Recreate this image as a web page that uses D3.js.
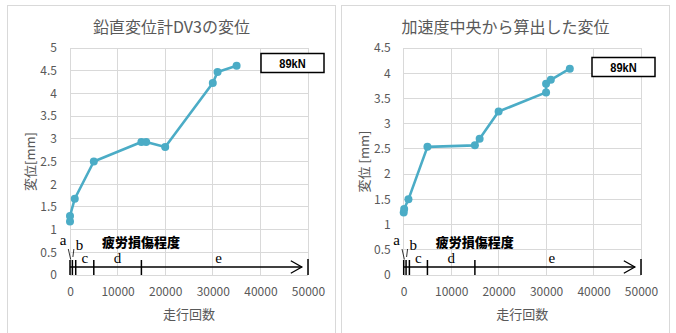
<!DOCTYPE html>
<html>
<head>
<meta charset="utf-8">
<script src="https://cdn.jsdelivr.net/npm/d3@7"></script>
<style>
  html, body { margin: 0; padding: 0; background: #fff; }
  svg { display: block; }
</style>
</head>
<body>
<svg id="chart" width="676" height="333"></svg>
<script>
// Running cycles and measured displacement [mm] for each panel
const dv3Cycles = [0, 0, 1000, 5000, 15000, 16000, 20000, 30000, 31000, 35000];
const dv3Disp   = [1.18, 1.30, 1.68, 2.50, 2.93, 2.93, 2.82, 4.23, 4.47, 4.61];

const accCycles = [0, 100, 1000, 5000, 15000, 16000, 20000, 30000, 30000, 31000, 35000];
const accDisp   = [1.24, 1.31, 1.50, 2.54, 2.57, 2.70, 3.24, 3.62, 3.79, 3.87, 4.09];

// Fatigue damage stages along the cycle axis
const stageBounds = [0, 500, 1200, 5000, 15000, 50000];
const stageNames  = ["a", "b", "c", "d", "e"];
const arrowTipCycles = 48700;

const xTicks = [0, 10000, 20000, 30000, 40000, 50000];
const dv3YTicks = [0, 0.5, 1, 1.5, 2, 2.5, 3, 3.5, 4, 4.5, 5];
const accYTicks = [0, 0.5, 1, 1.5, 2, 2.5, 3, 3.5, 4, 4.5];

const titles = ["鉛直変位計DV3の変位", "加速度中央から算出した変位"];
const yTitles = ["変位[mm]", "変位 [mm]"];
const xTitle = "走行回数";
const loadLabel = "89kN";
const stageTitle = "疲労損傷程度";

const svg = d3.select("#chart");
svg.append("rect").attr("width", 676).attr("height", 333).attr("fill", "#fff");

const LINE = "#4bacc6";
const GRID = "#d9d9d9";
const TXT = "#595959";
const SANS = "'Noto Sans CJK JP', 'Noto Sans', sans-serif";

function drawPanel(cfg) {
  const g = svg.append("g");

  // chart frame
  g.append("rect")
    .attr("x", cfg.frame[0] + 0.5).attr("y", 5.5)
    .attr("width", cfg.frame[1] - cfg.frame[0]).attr("height", 340)
    .attr("fill", "#fff").attr("stroke", GRID).attr("stroke-width", 1);

  g.append("text")
    .attr("x", (cfg.frame[0] + cfg.frame[1]) / 2 + 0.5).attr("y", 26)
    .attr("text-anchor", "middle").attr("dominant-baseline", "central")
    .attr("font-family", SANS).attr("font-size", 16).attr("fill", TXT)
    .text(cfg.title);

  const x = d3.scaleLinear().domain([0, 50000]).range([cfg.plot[0], cfg.plot[1]]);
  const y = d3.scaleLinear().domain([0, cfg.yMax]).range([275, 48]);

  // gridlines
  const grid = g.append("g").attr("stroke", GRID).attr("stroke-width", 1).attr("shape-rendering", "crispEdges");
  grid.selectAll("line.h").data(cfg.yTicks).join("line")
    .attr("x1", x(0)).attr("x2", x(50000))
    .attr("y1", d => y(d)).attr("y2", d => y(d));
  grid.selectAll("line.v").data(xTicks).join("line")
    .attr("x1", d => x(d)).attr("x2", d => x(d))
    .attr("y1", y(0)).attr("y2", y(cfg.yMax));

  // axes (labels only)
  const yAxis = g.append("g").attr("transform", `translate(${x(0)},0)`)
    .call(d3.axisLeft(y).tickValues(cfg.yTicks).tickSize(0).tickPadding(13)
      .tickFormat(d3.format("~g")));
  yAxis.select(".domain").remove();
  yAxis.selectAll("text").attr("font-family", SANS).attr("font-size", 12).attr("fill", TXT);

  const xAxis = g.append("g").attr("transform", `translate(0,${y(0)})`)
    .call(d3.axisBottom(x).tickValues(xTicks).tickSize(0).tickPadding(12)
      .tickFormat(d3.format("d")));
  xAxis.select(".domain").remove();
  xAxis.selectAll("text").attr("font-family", SANS).attr("font-size", 12).attr("fill", TXT);

  g.append("text")
    .attr("x", (x(0) + x(50000)) / 2).attr("y", 313)
    .attr("text-anchor", "middle").attr("dominant-baseline", "central")
    .attr("font-family", SANS).attr("font-size", 13).attr("fill", TXT)
    .text(xTitle);

  g.append("text")
    .attr("transform", `translate(${cfg.yTitleX},${(y(0) + y(cfg.yMax)) / 2}) rotate(-90)`)
    .attr("text-anchor", "middle").attr("dominant-baseline", "central")
    .attr("font-family", SANS).attr("font-size", 13).attr("fill", TXT)
    .text(cfg.yTitle);

  // fatigue stage annotation
  const base = y(0);
  const ann = g.append("g").attr("stroke", "#000").attr("fill", "none");
  const arrowY = base - 8;
  ann.append("line")
    .attr("x1", x(0)).attr("x2", x(arrowTipCycles))
    .attr("y1", arrowY).attr("y2", arrowY).attr("stroke-width", 1.3);
  ann.append("path")
    .attr("d", `M${x(arrowTipCycles) - 11},${arrowY - 6.3}L${x(arrowTipCycles)},${arrowY}L${x(arrowTipCycles) - 11},${arrowY + 6.3}`)
    .attr("stroke-width", 1.3);
  ann.selectAll("line.tick").data(stageBounds).join("line")
    .attr("x1", d => x(d)).attr("x2", d => x(d))
    .attr("y1", (d, i) => i === stageBounds.length - 1 ? base - 16 : base - 15)
    .attr("y2", base)
    .attr("stroke-width", 1.5);

  // leader lines for the two narrow stages
  ann.append("line")
    .attr("x1", x(stageBounds[0]) - 1.7).attr("y1", base - 26)
    .attr("x2", x(stageBounds[0]) + 0.7).attr("y2", base - 15.5)
    .attr("stroke-width", 0.8);
  ann.append("line")
    .attr("x1", x(stageBounds[1]) + 1.5).attr("y1", base - 26)
    .attr("x2", x(stageBounds[1]) + 0.5).attr("y2", base - 18)
    .attr("stroke-width", 0.8);

  const serif = "'Liberation Serif', 'DejaVu Serif', serif";
  const stageLabelX = [
    x(0) - 7,
    x(0) + 9.5,
    (x(stageBounds[2]) + x(stageBounds[3])) / 2,
    (x(stageBounds[3]) + x(stageBounds[4])) / 2,
    (x(stageBounds[4]) + x(arrowTipCycles)) / 2 - 3
  ];
  const stageLabelY = [base - 30, base - 25, base - 12, base - 12, base - 12];
  g.selectAll("text.stage").data(stageNames).join("text")
    .attr("x", (d, i) => stageLabelX[i]).attr("y", (d, i) => stageLabelY[i])
    .attr("text-anchor", "middle")
    .attr("font-family", serif).attr("font-size", 15).attr("fill", "#000")
    .text(d => d);

  g.append("text")
    .attr("x", x(0) + 71).attr("y", base - 34)
    .attr("text-anchor", "middle").attr("dominant-baseline", "central")
    .attr("font-family", SANS).attr("font-weight", 900).attr("font-size", 13).attr("fill", "#000")
    .text(stageTitle);

  // data series
  const pts = cfg.cycles.map((c, i) => [c, cfg.disp[i]]);
  g.append("path")
    .datum(pts)
    .attr("d", d3.line().x(d => x(d[0])).y(d => y(d[1])))
    .attr("fill", "none").attr("stroke", LINE).attr("stroke-width", 2.6)
    .attr("stroke-linejoin", "round");
  g.selectAll("circle.pt").data(pts).join("circle")
    .attr("cx", d => x(d[0])).attr("cy", d => y(d[1])).attr("r", 4)
    .attr("fill", LINE);

  // load label box
  g.append("rect")
    .attr("x", cfg.box[0]).attr("y", cfg.box[1])
    .attr("width", 63).attr("height", 19)
    .attr("fill", "#fff").attr("stroke", "#000").attr("stroke-width", 1.5);
  g.append("text")
    .attr("x", cfg.box[0] + 31.5).attr("y", cfg.box[1] + 10)
    .attr("text-anchor", "middle").attr("dominant-baseline", "central")
    .attr("font-family", "'Liberation Sans Narrow', 'Liberation Sans', sans-serif")
    .attr("font-weight", "bold").attr("font-size", 13).attr("fill", "#000")
    .attr("transform", `translate(${cfg.box[0] + 31.5},0) scale(0.85,1) translate(${-(cfg.box[0] + 31.5)},0)`)
    .text(loadLabel);
}

drawPanel({
  frame: [7, 335], plot: [70, 308], yMax: 5, yTicks: dv3YTicks,
  title: titles[0], yTitle: yTitles[0], yTitleX: 29,
  cycles: dv3Cycles, disp: dv3Disp, box: [261, 53.5]
});
drawPanel({
  frame: [341, 669], plot: [403.7, 641], yMax: 4.5, yTicks: accYTicks,
  title: titles[1], yTitle: yTitles[1], yTitleX: 363,
  cycles: accCycles, disp: accDisp, box: [592, 57.5]
});
</script>
</body>
</html>
